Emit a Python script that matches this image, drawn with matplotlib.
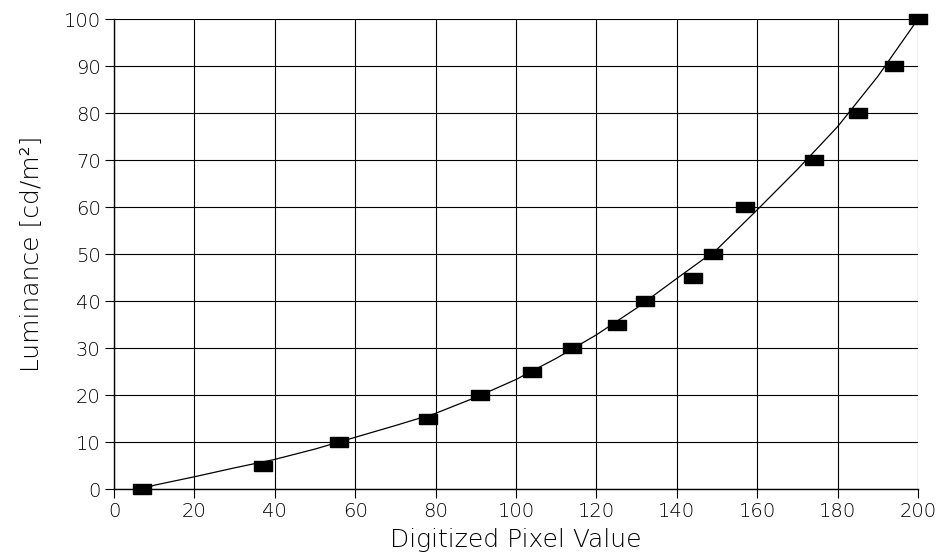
import numpy as np
import matplotlib.pyplot as plt

# Measured calibration points: pixel value vs. luminance
pixel_values = [7, 37, 56, 78, 91, 104, 114, 125, 132, 144, 149, 157, 174, 185, 194, 200]
luminance = [0, 5, 10, 15, 20, 25, 30, 35, 40, 45, 50, 60, 70, 80, 90, 100]

# Fitted calibration curve
fit_x = [7, 10, 20, 30, 40, 50, 60, 70, 80, 90, 100, 110, 120, 130, 140,
         150, 160, 170, 180, 190, 200]
fit_y = [0, 0.8, 2.6, 4.5, 6.3, 8.5, 11, 13.5, 16.1, 19.5, 23.3, 27.8, 32.8,
         38.5, 44.8, 51, 59.4, 68, 77.1, 87.8, 100]

x_ticks = np.arange(0, 201, 20)
y_ticks = np.arange(0, 101, 10)

plt.rcParams['font.family'] = ['DejaVu Sans']
plt.rcParams['font.weight'] = 'light'
plt.rcParams['axes.labelweight'] = 'light'

fig = plt.figure(figsize=(9.41, 5.56), dpi=100)
ax = fig.add_axes([0.1211, 0.1205, 0.8545, 0.8453])

ax.plot(fit_x, fit_y, color='black', linewidth=0.9, zorder=3)

# Rectangular markers, wider than tall
rect = [(-1.0, -0.55), (1.0, -0.55), (1.0, 0.55), (-1.0, 0.55), (-1.0, -0.55)]
ax.plot(pixel_values, luminance, linestyle='none', marker=rect,
        markersize=13, color='black', zorder=4, clip_on=False)

ax.set_xlim(0, 200)
ax.set_ylim(0, 100)
ax.set_xticks(x_ticks)
ax.set_yticks(y_ticks)
ax.grid(True, color='black', linewidth=0.8)
ax.set_axisbelow(True)

for side in ['top', 'right']:
    ax.spines[side].set_visible(False)
for side in ['left', 'bottom']:
    ax.spines[side].set_linewidth(1.0)

ax.tick_params(direction='out', length=6.5, width=0.8, labelsize=14,
               labelcolor='black', pad=3)

ax.set_xlabel('Digitized Pixel Value', fontsize=18, labelpad=5)
ax.set_ylabel('Luminance [cd/m²]', fontsize=18, labelpad=14)

fig.savefig('out.png', dpi=100)
